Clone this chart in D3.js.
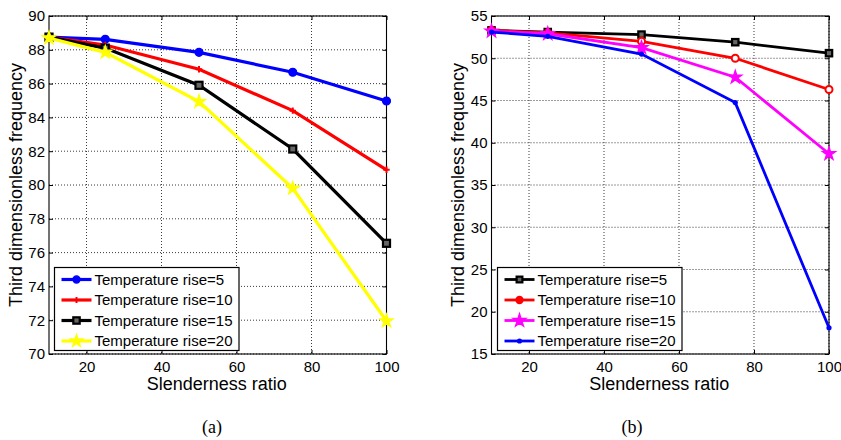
<!DOCTYPE html>
<html>
<head>
<meta charset="utf-8">
<script src="https://cdn.jsdelivr.net/npm/d3@7"></script>
<style>
  html, body { margin: 0; padding: 0; background: #fff; }
  svg { display: block; }
  text { font-family: "Liberation Sans", Arial, sans-serif; fill: #000; }
</style>
</head>
<body>
<svg id="chart" width="841" height="440"></svg>
<script>
// ---------- data ----------
const slenderness = [10, 25, 50, 75, 100];
const seriesNames = ["Temperature rise=5", "Temperature rise=10", "Temperature rise=15", "Temperature rise=20"];

const a_rise5  = [88.75, 88.62, 87.85, 86.67, 84.97];
const a_rise10 = [88.75, 88.28, 86.85, 84.40, 80.90];
const a_rise15 = [88.75, 88.10, 85.90, 82.13, 76.55];
const a_rise20 = [88.70, 87.85, 84.93, 79.80, 71.95];

const b_rise5  = [53.30, 53.10, 52.80, 51.90, 50.60];
const b_rise10 = [53.30, 53.00, 52.00, 50.00, 46.30];
const b_rise15 = [53.20, 52.90, 51.25, 47.75, 38.70];
const b_rise20 = [53.10, 52.60, 50.50, 44.75, 18.10];

const xTicks = [20, 40, 60, 80, 100];
const aYTicks = [70, 72, 74, 76, 78, 80, 82, 84, 86, 88, 90];
const bYTicks = [15, 20, 25, 30, 35, 40, 45, 50, 55];

const xLabel = "Slenderness ratio";
const yLabel = "Third dimensionless frequency";
const captions = ["(a)", "(b)"];

// ---------- drawing ----------
const svg = d3.select("#chart");

function starPath(r) {
  const ri = r * 0.382;
  let p = [];
  for (let i = 0; i < 10; i++) {
    const rr = i % 2 === 0 ? r : ri;
    const a = -Math.PI / 2 + i * Math.PI / 5;
    p.push([rr * Math.cos(a), rr * Math.sin(a)]);
  }
  return "M" + p.map(d => d[0].toFixed(2) + "," + d[1].toFixed(2)).join("L") + "Z";
}

function drawMarker(g, type, color, x, y, scale) {
  const s = scale || 1;
  if (type === "circleFilled") {
    g.append("circle").attr("cx", x).attr("cy", y).attr("r", 3.6 * s)
      .attr("fill", color).attr("stroke", color).attr("stroke-width", 1.2);
  } else if (type === "circleOpen") {
    g.append("circle").attr("cx", x).attr("cy", y).attr("r", 3.2 * s)
      .attr("fill", s < 1 ? color : "#fff").attr("stroke", color).attr("stroke-width", 2);
  } else if (type === "plus") {
    const h = 3.2 * s;
    g.append("path").attr("d", `M${x - h},${y}L${x + h},${y}M${x},${y - h}L${x},${y + h}`)
      .attr("stroke", color).attr("stroke-width", 2).attr("fill", "none");
  } else if (type === "square") {
    const h = 3.2 * s;
    g.append("rect").attr("x", x - h).attr("y", y - h).attr("width", 2 * h).attr("height", 2 * h)
      .attr("fill", "#666").attr("stroke", color).attr("stroke-width", 2.2);
  } else if (type === "star") {
    g.append("path").attr("d", starPath(7 * s)).attr("transform", `translate(${x},${y})`)
      .attr("fill", color).attr("stroke", color).attr("stroke-width", 1.2).attr("stroke-linejoin", "miter");
  } else if (type === "dot") {
    g.append("circle").attr("cx", x).attr("cy", y).attr("r", 2.6 * s)
      .attr("fill", color).attr("stroke", "none");
  }
}

function panel(cfg) {
  const g = svg.append("g");
  const x = d3.scaleLinear().domain([10, 100]).range([cfg.x0, cfg.x1]);
  const y = d3.scaleLinear().domain(cfg.yDomain).range([cfg.y1, cfg.y0]);

  // grid
  const grid = g.append("g").attr("stroke", "#222").attr("stroke-width", 0.9)
    .attr("stroke-dasharray", "1,2").attr("fill", "none");
  xTicks.forEach(t => grid.append("line").attr("x1", x(t)).attr("x2", x(t))
    .attr("y1", cfg.y0).attr("y2", cfg.y1));
  cfg.yTicks.forEach(t => grid.append("line").attr("y1", y(t)).attr("y2", y(t))
    .attr("x1", cfg.x0).attr("x2", cfg.x1));

  // axes with inward ticks
  const fs = "15px";
  const bottom = g.append("g").attr("transform", `translate(0,${cfg.y1})`)
    .call(d3.axisBottom(x).tickValues(xTicks).tickSize(-4).tickPadding(7.5).tickFormat(d3.format("d")));
  const top = g.append("g").attr("transform", `translate(0,${cfg.y0})`)
    .call(d3.axisTop(x).tickValues(xTicks).tickSize(-4).tickFormat(""));
  const left = g.append("g").attr("transform", `translate(${cfg.x0},0)`)
    .call(d3.axisLeft(y).tickValues(cfg.yTicks).tickSize(-4).tickPadding(4).tickFormat(d3.format("d")));
  const right = g.append("g").attr("transform", `translate(${cfg.x1},0)`)
    .call(d3.axisRight(y).tickValues(cfg.yTicks).tickSize(-4).tickFormat(""));
  [bottom, top, left, right].forEach(a => {
    a.select(".domain").remove();
    a.selectAll("line").attr("stroke", "#000").attr("stroke-width", 1);
    a.selectAll("text").style("font-family", "'Liberation Sans', Arial, sans-serif")
      .style("font-size", fs).attr("fill", "#000");
  });

  // box
  g.append("rect").attr("x", cfg.x0).attr("y", cfg.y0)
    .attr("width", cfg.x1 - cfg.x0).attr("height", cfg.y1 - cfg.y0)
    .attr("fill", "none").attr("stroke", "#000").attr("stroke-width", 1.1);

  // lines
  const line = d3.line().x(d => x(d[0])).y(d => y(d[1]));
  cfg.series.forEach(s => {
    const pts = slenderness.map((v, i) => [v, s.values[i]]);
    g.append("path").datum(pts).attr("d", line).attr("fill", "none")
      .attr("stroke", s.color).attr("stroke-width", cfg.lw).attr("stroke-linejoin", "miter");
    pts.forEach(p => drawMarker(g, s.marker, s.color, x(p[0]), y(p[1]), s.ms));
  });

  // axis titles
  g.append("text").attr("x", (cfg.x0 + cfg.x1) / 2 - 1).attr("y", 390)
    .attr("text-anchor", "middle").style("font-size", "18px").text(xLabel);
  g.append("text").attr("transform", `translate(${cfg.yTitleX},${(cfg.y0 + cfg.y1) / 2}) rotate(-90)`)
    .attr("text-anchor", "middle").style("font-size", "18px").text(yLabel);

  // legend
  const L = cfg.legend;
  g.append("rect").attr("x", L.x).attr("y", L.y).attr("width", L.w).attr("height", L.h)
    .attr("fill", "#fff").attr("stroke", "#000").attr("stroke-width", 1.2);
  cfg.series.forEach((s, i) => {
    const yy = L.y + 12 + i * 20.5;
    g.append("line").attr("x1", L.x + 7).attr("x2", L.x + 37).attr("y1", yy).attr("y2", yy)
      .attr("stroke", s.color).attr("stroke-width", cfg.lw);
    drawMarker(g, s.marker, s.color, L.x + 22, yy, s.legendMs);
    g.append("text").attr("x", L.x + 40).attr("y", yy + 5.3)
      .style("font-size", "15px").text(seriesNames[i]);
  });

  // caption
  svg.append("text").attr("x", cfg.captionX).attr("y", 433).attr("text-anchor", "middle")
    .style("font-family", "'Liberation Serif', 'Times New Roman', serif").style("font-size", "18px")
    .text(cfg.caption);
}

panel({
  x0: 49, x1: 386.5, y0: 16, y1: 354, yDomain: [70, 90], yTicks: aYTicks, lw: 3.2,
  yTitleX: 22, captionX: 212, caption: captions[0],
  legend: { x: 54.5, y: 267.5, w: 184.5, h: 83 },
  series: [
    { values: a_rise5,  color: "#0000ff", marker: "circleFilled", ms: 1.1, legendMs: 1.0 },
    { values: a_rise10, color: "#ff0000", marker: "plus", ms: 1, legendMs: 0.9 },
    { values: a_rise15, color: "#000000", marker: "square", ms: 1.1, legendMs: 1.0 },
    { values: a_rise20, color: "#ffff00", marker: "star", ms: 1.0, legendMs: 0.95 }
  ]
});

panel({
  x0: 491.5, x1: 829, y0: 16, y1: 354, yDomain: [15, 55], yTicks: bYTicks, lw: 2.8,
  yTitleX: 464, captionX: 632, caption: captions[1],
  legend: { x: 497.5, y: 267.5, w: 184.5, h: 83 },
  series: [
    { values: b_rise5,  color: "#000000", marker: "square", ms: 1.0, legendMs: 0.9 },
    { values: b_rise10, color: "#ff0000", marker: "circleOpen", ms: 1.1, legendMs: 0.99 },
    { values: b_rise15, color: "#ff00ff", marker: "star", ms: 1.0, legendMs: 1.0 },
    { values: b_rise20, color: "#0000ff", marker: "dot", ms: 1.0, legendMs: 1.0 }
  ]
});
</script>
</body>
</html>
